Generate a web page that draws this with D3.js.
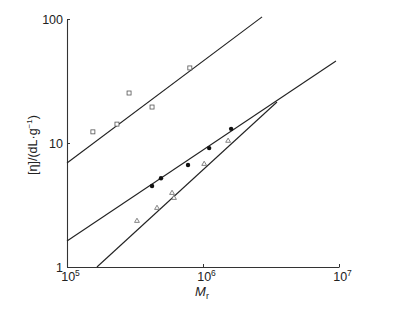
<!DOCTYPE html>
<html>
<head>
<meta charset="utf-8">
<script src="https://cdn.jsdelivr.net/npm/d3@7"></script>
<style>
  body { margin: 0; background: #fff; }
  svg { display: block; }
</style>
</head>
<body>
<div id="chart"></div>
<script>
'use strict'

// squares
const sqM = [1.55e5, 2.33e5, 2.86e5, 4.22e5, 8.0e5]
const sqEta = [12.3, 14.2, 25.3, 19.5, 40.3]
// filled circles
const circM = [4.22e5, 4.91e5, 7.76e5, 1.11e6, 1.61e6]
const circEta = [4.5, 5.2, 6.65, 9.1, 13.0]
// open triangles
const triM = [3.27e5, 4.59e5, 5.92e5, 6.12e5, 1.02e6, 1.53e6]
const triEta = [2.35, 2.99, 3.95, 3.6, 6.77, 10.4]

// fitted lines (end points)
const fitSqM = [1e5, 2.72e6], fitSqEta = [6.9, 104]
const fitCircM = [1e5, 9.5e6], fitCircEta = [1.62, 45.8]
const fitTriM = [1.66e5, 3.5e6], fitTriEta = [1, 21.4]

const xTicks = [1e5, 1e6, 1e7]
const xTickExp = ['5', '6', '7']
const yTicks = [1, 10, 100]
const yTickLabels = ['1', '10', '100']

////////////////////////////////////
//////////// svg setup /////////////
////////////////////////////////////

const svgWidth = 393, svgHeight = 311
const margin = {left: 67, right: 54, top: 19, bottom: 44}
const width = svgWidth - margin.left - margin.right
const height = svgHeight - margin.top - margin.bottom

const ink = '#333'
const font = '"Liberation Sans", Arial, sans-serif'

const svg = d3.select('#chart')
    .append('svg')
    .attr('width', svgWidth)
    .attr('height', svgHeight)
    .append('g')
    .attr('transform', `translate(${margin.left},${margin.top})`)

const x = d3.scaleLog().domain([1e5, 1e7]).range([0, width])
const y = d3.scaleLog().domain([1, 100]).range([height, 0])

////////////////////////////////////
//////////// axes //////////////////
////////////////////////////////////

const xAxis = svg.append('g')
    .attr('transform', `translate(0,${height})`)
    .call(d3.axisBottom(x).tickValues(xTicks)
        .tickFormat('')
        .tickSizeInner(-3).tickSizeOuter(0).tickPadding(5))

const yAxis = svg.append('g')
    .call(d3.axisLeft(y).tickValues(yTicks)
        .tickFormat((d, i) => yTickLabels[i])
        .tickSizeInner(-3).tickSizeOuter(0).tickPadding(4))

;[xAxis, yAxis].forEach(a => {
    a.select('.domain').attr('stroke', ink).attr('stroke-width', 1.1)
    a.selectAll('.tick line').attr('stroke', ink)
    a.selectAll('.tick text')
        .style('font-family', font)
        .style('font-size', '12.5px')
        .attr('fill', '#222')
})

// x tick labels with superscript exponent
xAxis.selectAll('.tick text')
    .attr('dx', 3)
    .each(function(d, i) {
        const t = d3.select(this)
        t.append('tspan').text('10')
        t.append('tspan').text(xTickExp[i]).attr('dy', -5).style('font-size', '8.5px')
    })

// axis titles
svg.append('text')
    .attr('x', x(1e6) - 1)
    .attr('y', height + 29)
    .style('font-family', font)
    .style('font-size', '13px')
    .attr('fill', '#222')
    .attr('text-anchor', 'middle')
    .call(t => {
        t.append('tspan').text('M').style('font-style', 'italic')
        t.append('tspan').text('r').attr('dy', 3).style('font-size', '9px')
    })

svg.append('text')
    .attr('transform', `translate(${-30},${y(10) + 2}) rotate(-90)`)
    .style('font-family', font)
    .style('font-size', '12.5px')
    .attr('fill', '#222')
    .attr('text-anchor', 'middle')
    .call(t => {
        t.append('tspan').text('[η]/(dL·g')
        t.append('tspan').text('−1').attr('dy', -5).style('font-size', '8px')
        t.append('tspan').text(')').attr('dy', 5)
    })

////////////////////////////////////
//////////// lines /////////////////
////////////////////////////////////

const line = d3.line().x(d => x(d[0])).y(d => y(d[1]))

;[[fitSqM, fitSqEta], [fitCircM, fitCircEta], [fitTriM, fitTriEta]].forEach(([m, e]) => {
    svg.append('path')
        .datum(m.map((v, i) => [v, e[i]]))
        .attr('d', line)
        .attr('fill', 'none')
        .attr('stroke', '#222')
        .attr('stroke-width', 1.1)
})

////////////////////////////////////
//////////// points ////////////////
////////////////////////////////////

svg.selectAll('.sq')
    .data(sqM.map((v, i) => [v, sqEta[i]]))
    .join('rect')
    .attr('class', 'sq')
    .attr('x', d => x(d[0]) - 2)
    .attr('y', d => y(d[1]) - 2)
    .attr('width', 4)
    .attr('height', 4)
    .attr('fill', '#fff')
    .attr('stroke', '#555')
    .attr('stroke-width', 0.8)

svg.selectAll('.circ')
    .data(circM.map((v, i) => [v, circEta[i]]))
    .join('circle')
    .attr('class', 'circ')
    .attr('cx', d => x(d[0]))
    .attr('cy', d => y(d[1]))
    .attr('r', 2.2)
    .attr('fill', '#111')

const tri = d3.symbol().type(d3.symbolTriangle).size(10)
svg.selectAll('.tri')
    .data(triM.map((v, i) => [v, triEta[i]]))
    .join('path')
    .attr('class', 'tri')
    .attr('d', tri)
    .attr('transform', d => `translate(${x(d[0])},${y(d[1])})`)
    .attr('fill', '#fff')
    .attr('stroke', '#666')
    .attr('stroke-width', 0.8)
</script>
</body>
</html>
